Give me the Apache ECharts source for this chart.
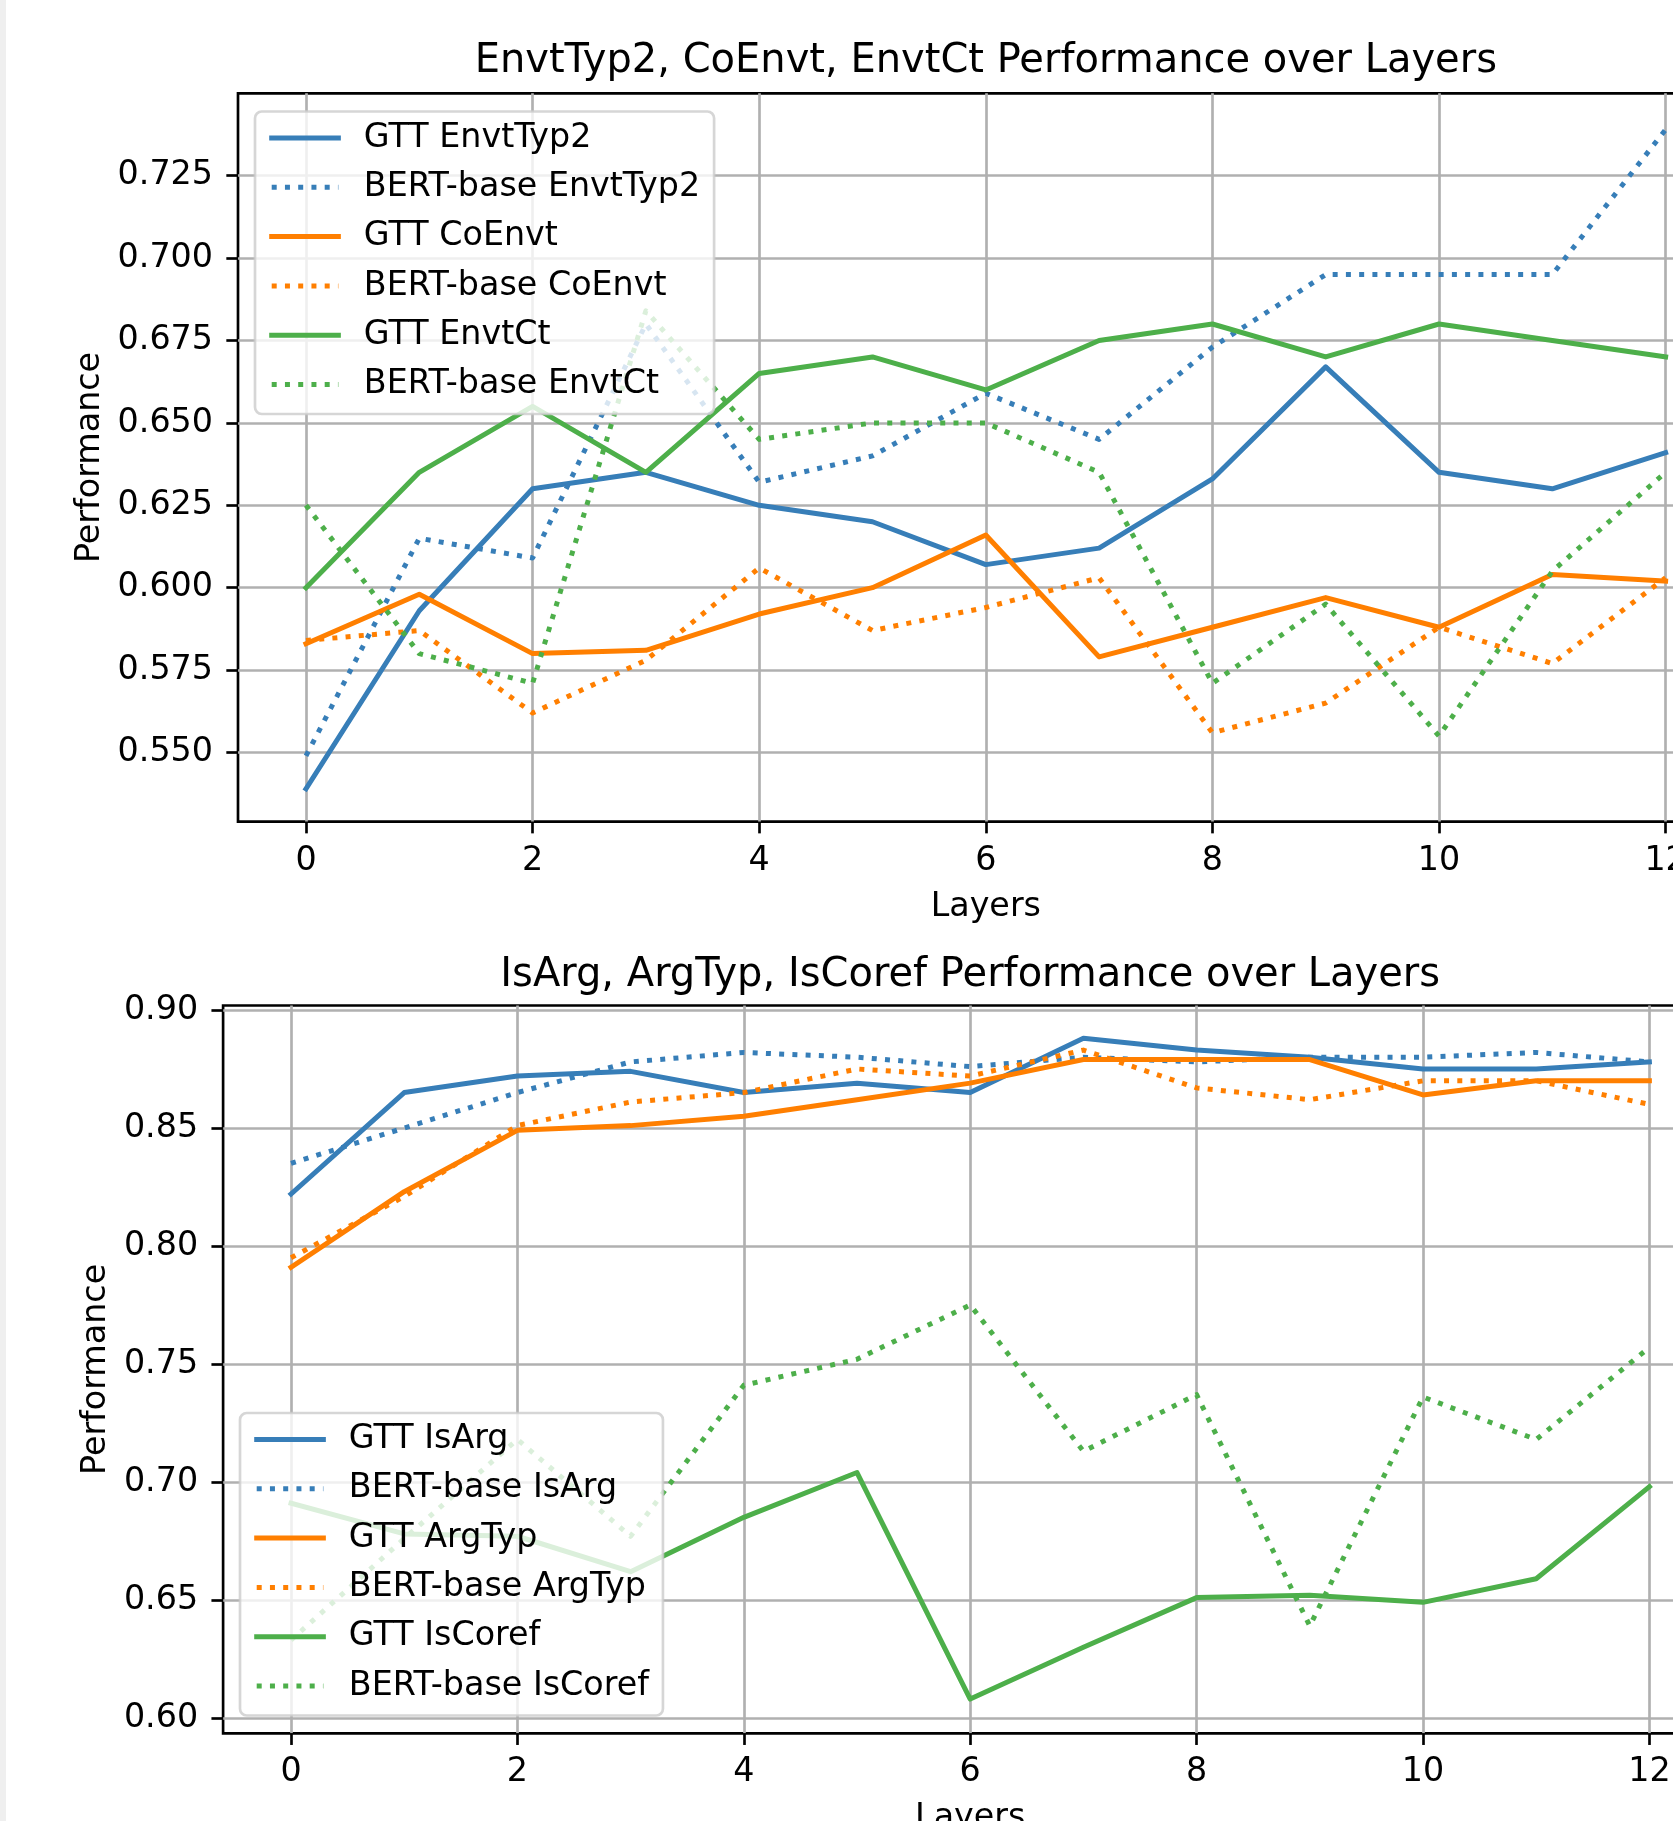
<!DOCTYPE html>
<html>
<head>
<meta charset="utf-8">
<script src="https://cdn.jsdelivr.net/npm/echarts@6/dist/echarts.min.js"></script>
<style>
  html, body { margin: 0; padding: 0; background: #ffffff; }
  #chart { width: 1673px; height: 1821px; }
</style>
</head>
<body>
<div id="chart"></div>
<script>
// Layers probed (x axis of both panels)
const layers = [0, 1, 2, 3, 4, 5, 6, 7, 8, 9, 10, 11, 12];
const xTicks = [0, 2, 4, 6, 8, 10, 12];

// Upper panel: event-level probing tasks
const topTitle = 'EnvtTyp2, CoEnvt, EnvtCt Performance over Layers';
const topYTicks = [0.550, 0.575, 0.600, 0.625, 0.650, 0.675, 0.700, 0.725];
const gttEnvtTyp2  = [0.539, 0.593, 0.630, 0.635, 0.625, 0.620, 0.607, 0.612, 0.633, 0.667, 0.635, 0.630, 0.641];
const bertEnvtTyp2 = [0.549, 0.615, 0.609, 0.680, 0.632, 0.640, 0.659, 0.645, 0.673, 0.695, 0.695, 0.695, 0.739];
const gttCoEnvt    = [0.583, 0.598, 0.580, 0.581, 0.592, 0.600, 0.616, 0.579, 0.588, 0.597, 0.588, 0.604, 0.602];
const bertCoEnvt   = [0.584, 0.587, 0.562, 0.578, 0.606, 0.587, 0.594, 0.603, 0.556, 0.565, 0.588, 0.577, 0.603];
const gttEnvtCt    = [0.600, 0.635, 0.655, 0.635, 0.665, 0.670, 0.660, 0.675, 0.680, 0.670, 0.680, 0.675, 0.670];
const bertEnvtCt   = [0.625, 0.580, 0.571, 0.684, 0.645, 0.650, 0.650, 0.635, 0.571, 0.595, 0.555, 0.605, 0.635];

// Lower panel: argument-level probing tasks
const bottomTitle = 'IsArg, ArgTyp, IsCoref Performance over Layers';
const bottomYTicks = [0.60, 0.65, 0.70, 0.75, 0.80, 0.85, 0.90];
const gttIsArg     = [0.822, 0.865, 0.872, 0.874, 0.865, 0.869, 0.865, 0.888, 0.883, 0.880, 0.875, 0.875, 0.878];
const bertIsArg    = [0.835, 0.850, 0.865, 0.878, 0.882, 0.880, 0.876, 0.880, 0.878, 0.880, 0.880, 0.882, 0.878];
const gttArgTyp    = [0.791, 0.823, 0.849, 0.851, 0.855, 0.862, 0.869, 0.879, 0.879, 0.879, 0.864, 0.870, 0.870];
const bertArgTyp   = [0.795, 0.821, 0.851, 0.861, 0.865, 0.875, 0.872, 0.883, 0.867, 0.862, 0.870, 0.870, 0.860];
const gttIsCoref   = [0.691, 0.678, 0.677, 0.662, 0.685, 0.704, 0.608, 0.630, 0.651, 0.652, 0.649, 0.659, 0.698];
const bertIsCoref  = [0.633, 0.676, 0.718, 0.677, 0.741, 0.752, 0.775, 0.713, 0.737, 0.639, 0.736, 0.718, 0.757];

const BLUE = '#377eb8', ORANGE = '#ff7f00', GREEN = '#4daf4a';
const FONT = 'DejaVu Sans';
const PT = 3.333;              // pixels per typographic point
const LW = 1.5 * PT;           // plotted line width
const DOTS = [1.5 * PT, 2.475 * PT];
const THIN = 0.8 * PT;

const topSeries = [
  { name: 'GTT EnvtTyp2', values: gttEnvtTyp2, color: BLUE, dotted: false },
  { name: 'BERT-base EnvtTyp2', values: bertEnvtTyp2, color: BLUE, dotted: true },
  { name: 'GTT CoEnvt', values: gttCoEnvt, color: ORANGE, dotted: false },
  { name: 'BERT-base CoEnvt', values: bertCoEnvt, color: ORANGE, dotted: true },
  { name: 'GTT EnvtCt', values: gttEnvtCt, color: GREEN, dotted: false },
  { name: 'BERT-base EnvtCt', values: bertEnvtCt, color: GREEN, dotted: true }
];
const bottomSeries = [
  { name: 'GTT IsArg', values: gttIsArg, color: BLUE, dotted: false },
  { name: 'BERT-base IsArg', values: bertIsArg, color: BLUE, dotted: true },
  { name: 'GTT ArgTyp', values: gttArgTyp, color: ORANGE, dotted: false },
  { name: 'BERT-base ArgTyp', values: bertArgTyp, color: ORANGE, dotted: true },
  { name: 'GTT IsCoref', values: gttIsCoref, color: GREEN, dotted: false },
  { name: 'BERT-base IsCoref', values: bertIsCoref, color: GREEN, dotted: true }
];

function lineSeries(s, idx) {
  return {
    type: 'line',
    name: s.name,
    xAxisIndex: idx,
    yAxisIndex: idx,
    data: layers.map((l, i) => [l, s.values[i]]),
    symbol: 'none',
    showSymbol: false,
    clip: true,
    color: s.color,
    lineStyle: {
      color: s.color,
      width: LW,
      type: s.dotted ? DOTS : 'solid',
      cap: s.dotted ? 'butt' : 'square',
      join: 'round'
    },
    emphasis: { disabled: true },
    animation: false
  };
}

const tickText = { fontFamily: FONT, fontSize: 10 * PT, color: '#000' };

function xAxisFor(idx) {
  return {
    gridIndex: idx, type: 'value', min: -0.6, max: 12.6,
    axisLine: { show: false, onZero: false },
    axisTick: { show: true, inside: false, length: 3.5 * PT, customValues: xTicks,
                lineStyle: { color: '#000', width: THIN } },
    axisLabel: Object.assign({ customValues: xTicks, margin: 23 }, tickText),
    splitLine: { show: true, lineStyle: { color: '#b0b0b0', width: THIN } },
    name: 'Layers', nameLocation: 'middle', nameGap: 69,
    nameTextStyle: tickText
  };
}

function yAxisFor(idx, min, max, ticks, digits, gap) {
  return {
    gridIndex: idx, type: 'value', min: min, max: max,
    axisLine: { show: false, onZero: false },
    axisTick: { show: true, inside: false, length: 3.5 * PT, customValues: ticks,
                lineStyle: { color: '#000', width: THIN } },
    axisLabel: Object.assign({ customValues: ticks, margin: 25, padding: [6, 0, 0, 0],
                formatter: v => Number(v).toFixed(digits) }, tickText),
    splitLine: { show: true, lineStyle: { color: '#b0b0b0', width: THIN } },
    name: 'Performance', nameLocation: 'middle', nameGap: gap, nameRotate: 90,
    nameTextStyle: tickText
  };
}

function legendFor(list, left, top) {
  return {
    data: list.map(s => s.name),
    orient: 'vertical', left: left, top: top,
    padding: [6.5, 14, 9.5, 14.2],
    itemWidth: 2 * 10 * PT, itemHeight: 40, itemGap: 9.3,
    selectedMode: false,
    itemStyle: { opacity: 0 },
    lineStyle: { width: LW },
    textStyle: { fontFamily: FONT, fontSize: 10 * PT, color: '#000', lineHeight: 34,
                 padding: [6, 0, 0, 20.5] },
    backgroundColor: 'rgba(255,255,255,0.8)',
    borderColor: 'rgba(204,204,204,0.8)',
    borderWidth: THIN,
    borderRadius: 6.7,
    z: 10
  };
}

const gridBase = {
  show: true, borderColor: '#000', borderWidth: THIN, backgroundColor: 'transparent',
  containLabel: false, outerBoundsMode: 'none'
};

const chart = echarts.init(document.getElementById('chart'), null, { renderer: 'canvas' });
chart.setOption({
  animation: false,
  backgroundColor: '#ffffff',
  grid: [
    Object.assign({ left: 238, top: 93.3, width: 1495.6, height: 728.4 }, gridBase),
    Object.assign({ left: 223.1, top: 1005.5, width: 1494.2, height: 727.8 }, gridBase)
  ],
  xAxis: [xAxisFor(0), xAxisFor(1)],
  yAxis: [
    yAxisFor(0, 0.529, 0.750, topYTicks, 3, 130),
    yAxisFor(1, 0.5935, 0.9019, bottomYTicks, 2, 108)
  ],
  legend: [legendFor(topSeries, 255, 111.5), legendFor(bottomSeries, 240, 1413)],
  series: topSeries.map(s => lineSeries(s, 0)).concat(bottomSeries.map(s => lineSeries(s, 1))),
  graphic: [
    { type: 'rect', left: 0, top: 0, shape: { width: 6, height: 1821 },
      style: { fill: '#efefef' }, silent: true },
    { type: 'text', x: 985.8, y: 62, silent: true,
      style: { text: topTitle, fontFamily: FONT, fontSize: 12 * PT, fill: '#000',
               align: 'center', verticalAlign: 'middle' } },
    { type: 'text', x: 970.2, y: 975.5, silent: true,
      style: { text: bottomTitle, fontFamily: FONT, fontSize: 12 * PT, fill: '#000',
               align: 'center', verticalAlign: 'middle' } }
  ]
});
</script>
</body>
</html>
